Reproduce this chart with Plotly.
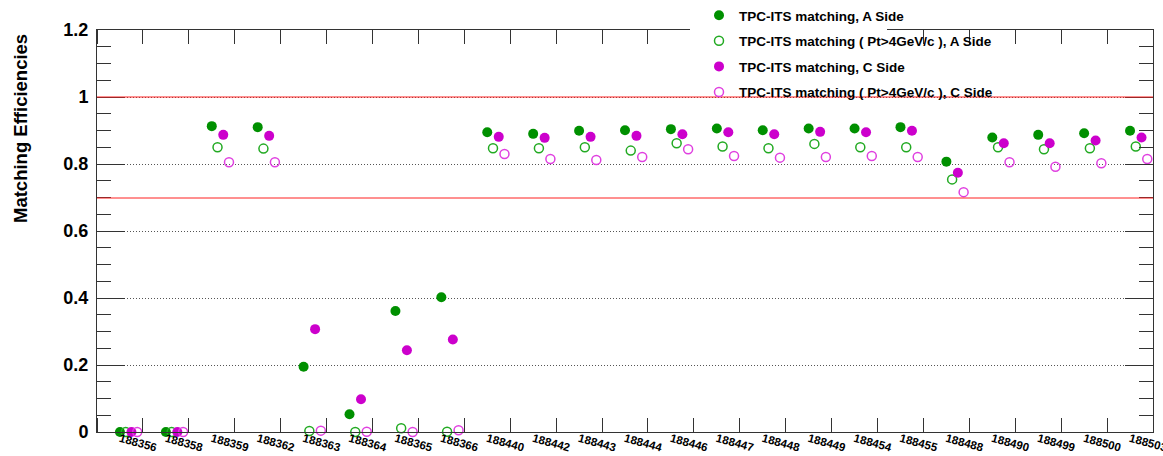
import plotly.graph_objects as go

# ---------------- data ----------------
runs = ["188356", "188358", "188359", "188362", "188363", "188364", "188365",
        "188366", "188440", "188442", "188443", "188444", "188446", "188447",
        "188448", "188449", "188454", "188455", "188488", "188490", "188499",
        "188500", "188503"]

eff_a = [0.0, 0.0, 0.913, 0.910, 0.195, 0.053, 0.361, 0.402, 0.895, 0.890,
         0.899, 0.901, 0.904, 0.906, 0.901, 0.906, 0.906, 0.910, 0.807, 0.879,
         0.887, 0.892, 0.899]
eff_a_pt4 = [0.0, 0.0, 0.850, 0.846, 0.003, 0.0, 0.011, 0.001, 0.847, 0.847,
             0.850, 0.840, 0.862, 0.852, 0.847, 0.860, 0.850, 0.850, 0.754,
             0.850, 0.844, 0.847, 0.852]
eff_c = [0.0, 0.0, 0.887, 0.884, 0.307, 0.098, 0.244, 0.276, 0.881, 0.878,
         0.881, 0.884, 0.889, 0.895, 0.889, 0.896, 0.895, 0.899, 0.774, 0.862,
         0.862, 0.870, 0.879]
eff_c_pt4 = [0.0, 0.0, 0.805, 0.805, 0.004, 0.001, 0.0, 0.005, 0.830, 0.815,
             0.812, 0.821, 0.844, 0.824, 0.819, 0.821, 0.824, 0.821, 0.716,
             0.805, 0.792, 0.802, 0.815]

series_names = ["TPC-ITS matching, A Side",
                "TPC-ITS matching ( Pt>4GeV/c ), A Side",
                "TPC-ITS matching, C Side",
                "TPC-ITS matching ( Pt>4GeV/c ), C Side"]

y_ticks = [0, 0.2, 0.4, 0.6, 0.8, 1.0, 1.2]
ref_lines = [1.0, 0.7]

# ---------------- styles ----------------
FONT = "Liberation Sans, Arial, Helvetica, sans-serif"
styles = [
    dict(offset=0.5, symbol="circle", color="#009000", size=10, lw=0),
    dict(offset=0.625, symbol="circle-open", color="#22aa22", size=9, lw=1.5),
    dict(offset=0.75, symbol="circle", color="#cc00cc", size=10, lw=0),
    dict(offset=0.875, symbol="circle-open", color="#e040e0", size=9, lw=1.5),
]
all_series = [eff_a, eff_a_pt4, eff_c, eff_c_pt4]

L, R, T, B = 97, 10, 30, 24
W, H = 1163, 456
pw, ph = W - L - R, H - T - B
Y_MAX = 1.2
scale = ph / Y_MAX  # px per unit


def px_x(p):
    return (p - L) / pw


def px_y(p):
    return (H - B - p) / ph


fig = go.Figure()
for k, (name, vals, st) in enumerate(zip(series_names, all_series, styles)):
    xs = [i + st["offset"] for i in range(len(runs))]
    fig.add_trace(go.Scatter(
        x=xs, y=vals, mode="markers", name=name,
        legendgroup=f"g{k}",
        cliponaxis=False,
        marker=dict(symbol=st["symbol"], size=st["size"], color=st["color"],
                    line=dict(width=st["lw"], color=st["color"])),
    ))

shapes = []
# reference lines: anchored at their value, nudged to whole pixel rows so
# the 1 px red stroke stays crisp
for v in ref_lines:
    d = (ref_lines[0] - v) * scale
    nudge = d - round(d)
    shapes.append(dict(type="line", xref="paper", yref="y",
                       ysizemode="pixel", yanchor=v, y0=nudge, y1=nudge,
                       x0=0, x1=1, line=dict(color="#ff2020", width=1),
                       layer="above"))
# white legend box hiding part of the top frame
shapes.append(dict(type="rect", xref="paper", yref="paper",
                   x0=px_x(690), x1=px_x(887), y0=px_y(50), y1=1.12,
                   fillcolor="white", line=dict(width=0), layer="above"))

fig.update_layout(
    width=W, height=H,
    margin=dict(l=L, r=R, t=T, b=B, autoexpand=False),
    paper_bgcolor="white", plot_bgcolor="white",
    font=dict(family=FONT, color="black"),
    showlegend=True,
    legend=dict(x=px_x(699), y=px_y(0), xanchor="left", yanchor="top",
                bgcolor="rgba(0,0,0,0)", borderwidth=0,
                font=dict(size=13.5, family=FONT, weight="bold"),
                tracegroupgap=5, traceorder="grouped"),
    shapes=shapes,
    annotations=[dict(text="<b>Matching Efficiencies</b>", xref="paper",
                      yref="paper", x=px_x(20), y=px_y(129), showarrow=False,
                      textangle=-90, font=dict(size=18.5, family=FONT),
                      xanchor="center", yanchor="middle")],
)

fig.update_xaxes(
    range=[0, len(runs)],
    tickmode="array",
    tickvals=[i + 0.5 for i in range(len(runs))],
    ticktext=runs,
    ticks="",
    tickangle=15,
    ticklabelstandoff=-5,
    ticklabeloverflow="allow",
    tickfont=dict(size=11.5, family=FONT, weight="bold"),
    showgrid=False, zeroline=False,
    showline=True, linecolor="#333", linewidth=1, mirror="ticks",
    minor=dict(tickmode="linear", tick0=0, dtick=1, ticks="inside",
               ticklen=14, tickcolor="#333", tickwidth=1, showgrid=False),
    automargin=False,
)

fig.update_yaxes(
    range=[0, Y_MAX],
    tickmode="array", tickvals=y_ticks,
    ticks="inside", ticklen=28, tickcolor="#333", tickwidth=1,
    ticklabelstandoff=4,
    tickfont=dict(size=18, family=FONT, weight="bold"),
    showgrid=True, gridcolor="#555", griddash="1px,2px", gridwidth=1,
    zeroline=False,
    showline=True, linecolor="#333", linewidth=1, mirror="ticks",
    minor=dict(tickmode="linear", tick0=0, dtick=0.05, ticks="inside",
               ticklen=14, tickcolor="#333", tickwidth=1, showgrid=False),
    automargin=False,
)

fig.write_html(
    "out.html",
    config={"displayModeBar": False},
    post_script="document.body.style.margin='0';"
                "document.body.style.overflow='hidden';",
)
